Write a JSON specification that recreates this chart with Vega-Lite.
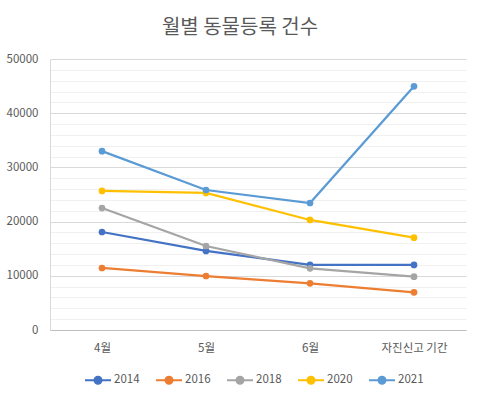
{
  "$schema": "https://vega.github.io/schema/vega-lite/v6.json",
  "width": 416,
  "height": 271,
  "autosize": {"type": "none"},
  "padding": {"left": 50, "top": 59, "right": 14, "bottom": 68},
  "background": "white",
  "title": {
    "text": "월별 동물등록 건수",
    "font": "Noto Sans CJK KR",
    "fontSize": 20,
    "fontWeight": "normal",
    "color": "#595959",
    "anchor": "middle",
    "dx": -18,
    "offset": 15
  },
  "config": {
    "view": {"stroke": null},
    "font": "Noto Sans CJK KR"
  },
  "data": {
    "values": [
      {"month": "4월", "year": "2014", "value": 18080},
      {"month": "5월", "year": "2014", "value": 14580},
      {"month": "6월", "year": "2014", "value": 12000},
      {"month": "자진신고 기간", "year": "2014", "value": 12000},
      {"month": "4월", "year": "2016", "value": 11440},
      {"month": "5월", "year": "2016", "value": 9960},
      {"month": "6월", "year": "2016", "value": 8620},
      {"month": "자진신고 기간", "year": "2016", "value": 6960},
      {"month": "4월", "year": "2018", "value": 22500},
      {"month": "5월", "year": "2018", "value": 15500},
      {"month": "6월", "year": "2018", "value": 11380},
      {"month": "자진신고 기간", "year": "2018", "value": 9840},
      {"month": "4월", "year": "2020", "value": 25650},
      {"month": "5월", "year": "2020", "value": 25280},
      {"month": "6월", "year": "2020", "value": 20300},
      {"month": "자진신고 기간", "year": "2020", "value": 17030},
      {"month": "4월", "year": "2021", "value": 33000},
      {"month": "5월", "year": "2021", "value": 25830},
      {"month": "6월", "year": "2021", "value": 23430},
      {"month": "자진신고 기간", "year": "2021", "value": 44960}
    ]
  },
  "resolve": {"axis": {"y": "independent"}},
  "layer": [
    {
      "mark": {"type": "rule", "opacity": 0},
      "encoding": {
        "y": {
          "field": "value", "type": "quantitative",
          "scale": {"domain": [0, 50000], "nice": false},
          "axis": {
            "orient": "left",
            "values": [2000,4000,6000,8000,12000,14000,16000,18000,22000,24000,26000,28000,32000,34000,36000,38000,42000,44000,46000,48000],
            "grid": true, "gridColor": "#f0f0f0", "gridWidth": 1,
            "labels": false, "ticks": false, "domain": false, "title": null
          }
        }
      }
    },
    {
      "mark": {"type": "line", "strokeWidth": 2.25, "point": {"filled": true, "size": 45, "opacity": 1}},
      "encoding": {
        "x": {
          "field": "month", "type": "ordinal",
          "sort": ["4월", "5월", "6월", "자진신고 기간"],
          "scale": {"type": "point", "padding": 0.5},
          "axis": {
            "title": null, "labelAngle": 0, "ticks": false,
            "domainColor": "#bfbfbf", "domainWidth": 1,
            "labelColor": "#595959", "labelFontSize": 11.5, "labelPadding": 12
          }
        },
        "y": {
          "field": "value", "type": "quantitative",
          "scale": {"domain": [0, 50000], "nice": false},
          "axis": {
            "orient": "left",
            "values": [0, 10000, 20000, 30000, 40000, 50000],
            "format": "d",
            "grid": true, "gridColor": "#d9d9d9", "gridWidth": 1,
            "domain": true, "domainColor": "#d9d9d9",
            "ticks": false, "title": null,
            "labelColor": "#595959", "labelFontSize": 11.5, "labelPadding": 12
          }
        },
        "color": {
          "field": "year", "type": "nominal",
          "scale": {
            "domain": ["2014", "2016", "2018", "2020", "2021"],
            "range": ["#4472C4", "#ED7D31", "#A5A5A5", "#FFC000", "#5B9BD5"]
          },
          "legend": {
            "title": null,
            "orient": "none",
            "direction": "horizontal",
            "legendX": 34,
            "legendY": 307,
            "symbolType": "M -1 0 L 1 0 M 0.27 0 A 0.27 0.27 0 1 1 -0.27 0 A 0.27 0.27 0 1 1 0.27 0",
            "symbolSize": 676,
            "symbolStrokeWidth": 2,
            "labelColor": "#595959",
            "labelFontSize": 11.5,
            "labelOffset": 2,
            "columnPadding": 12
          }
        }
      }
    }
  ]
}
